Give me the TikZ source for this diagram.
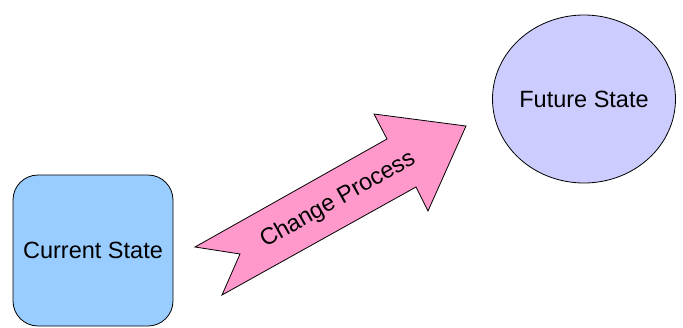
\documentclass[tikz,border=0pt]{standalone}
\usepackage{fontspec}
\setmainfont{Liberation Sans}
\usetikzlibrary{shapes.geometric}
\definecolor{boxblue}{HTML}{99CCFF}
\definecolor{circlav}{HTML}{CCCCFF}
\definecolor{arrpink}{HTML}{FF99CC}
\begin{document}
\begin{tikzpicture}[x=1pt,y=-1pt,
  lbl/.style={font=\fontsize{23.5}{28}\selectfont},
  shp/.style={draw=black,line width=0.8pt}]
\useasboundingbox (0,0) rectangle (683,327);
\node[shp,fill=boxblue,rounded corners=25pt,minimum width=160pt,minimum height=151pt,inner sep=0pt,lbl] (cur) at (93,250.5) {Current State};
\node[shp,fill=circlav,ellipse,minimum width=183pt,minimum height=168pt,inner sep=0pt,lbl] (fut) at (584,99) {Future State};
\draw[shp,fill=arrpink,line join=miter] (195,247) -- (240,254) -- (222,295) -- (416,187) -- (428,211) -- (466,126) -- (374,114) -- (387,139) -- cycle;
\node[lbl,rotate=29.4] (chg) at (338,200) {Change Process};
\end{tikzpicture}
\end{document}
